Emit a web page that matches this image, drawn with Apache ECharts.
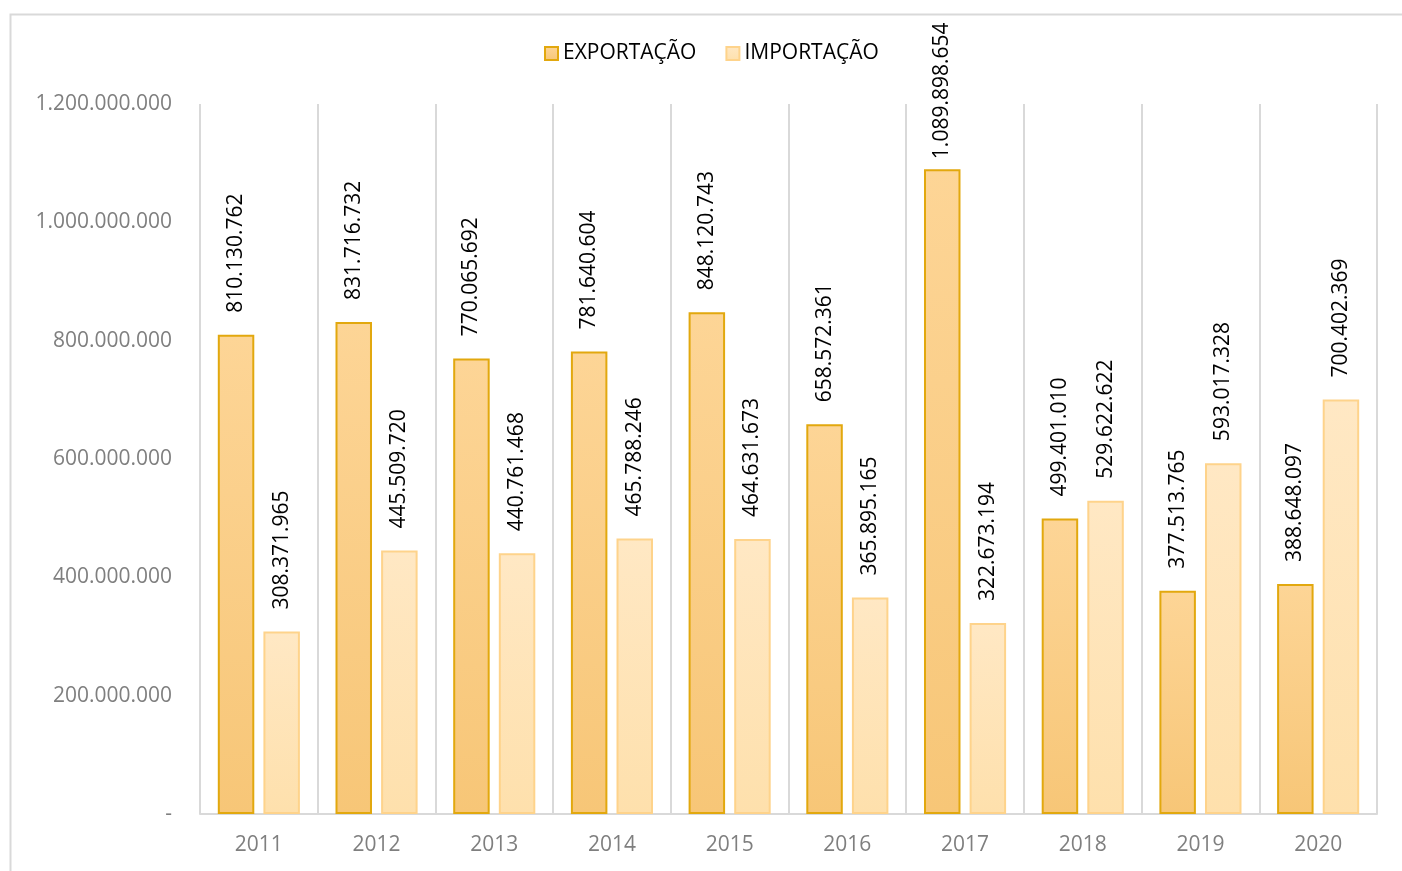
<!DOCTYPE html>
<html>
<head>
<meta charset="utf-8">
<script src="https://cdn.jsdelivr.net/npm/echarts@6/dist/echarts.min.js"></script>
<style>
html,body{margin:0;padding:0;background:#fff;}
#chart{width:1402px;height:871px;}
</style>
</head>
<body>
<div id="chart"></div>
<script>
const categories = ['2011','2012','2013','2014','2015','2016','2017','2018','2019','2020'];
const exportacao = [810130762, 831716732, 770065692, 781640604, 848120743, 658572361, 1089898654, 499401010, 377513765, 388648097];
const importacao = [308371965, 445509720, 440761468, 465788246, 464631673, 365895165, 322673194, 529622622, 593017328, 700402369];
const seriesNames = ['EXPORTAÇÃO', 'IMPORTAÇÃO'];

const FONT = '"Open Sans", "Liberation Sans", sans-serif';
const FS = 21;
function fmt(v) {
  if (v === 0) return '-';
  return String(Math.round(v)).replace(/\B(?=(\d{3})+(?!\d))/g, '.');
}
function grad(top, bottom) {
  return new echarts.graphic.LinearGradient(0, 0, 0, 1, [
    {offset: 0, color: top}, {offset: 1, color: bottom}
  ]);
}
const labelCfg = {
  show: true,
  position: 'top',
  rotate: 90,
  align: 'left',
  verticalAlign: 'middle',
  distance: 22,
  color: '#000',
  fontFamily: FONT,
  fontSize: FS,
  formatter: p => fmt(p.value)
};
// labels that would run past the top of the chart sit closer to their bar
function withLabelFit(values) {
  return values.map(v => v > 1000000000 ? {value: v, label: {distance: 10}} : v);
}

const chart = echarts.init(document.getElementById('chart'), null, {renderer: 'canvas'});
chart.setOption({
  backgroundColor: '#fff',
  animation: false,
  graphic: [{
    type: 'rect',
    shape: {x: 10.5, y: 14.5, width: 1500, height: 1000},
    style: {fill: 'none', stroke: '#d9d9d9', lineWidth: 2},
    silent: true, z: -1
  }],
  legend: {
    top: 38,
    left: 539,
    icon: 'rect',
    itemWidth: 13,
    itemHeight: 13,
    itemGap: 29,
    textStyle: {fontFamily: FONT, fontSize: FS, color: '#000'},
    data: seriesNames
  },
  grid: {left: 200, right: 25, top: 104, bottom: 57, containLabel: false},
  xAxis: {
    type: 'category',
    data: categories,
    boundaryGap: true,
    axisLine: {show: true, lineStyle: {color: '#d9d9d9', width: 2}},
    axisTick: {show: false},
    splitLine: {show: true, lineStyle: {color: '#d9d9d9', width: 2}},
    axisLabel: {color: '#7f7f7f', fontFamily: FONT, fontSize: FS, margin: 21}
  },
  yAxis: {
    type: 'value',
    min: 0,
    max: 1200000000,
    interval: 200000000,
    axisLine: {show: false},
    axisTick: {show: false},
    splitLine: {show: false},
    axisLabel: {color: '#7f7f7f', fontFamily: FONT, fontSize: FS, margin: 28, formatter: fmt}
  },
  series: [{
    name: seriesNames[0],
    type: 'bar',
    data: withLabelFit(exportacao),
    barWidth: '31%',
    barGap: '25%',
    itemStyle: {color: grad('#fdd596', '#f7c677'), borderColor: '#e2a80e', borderWidth: 2},
    label: labelCfg
  }, {
    name: seriesNames[1],
    type: 'bar',
    data: withLabelFit(importacao),
    barWidth: '31%',
    itemStyle: {color: grad('#ffe8c4', '#fee0ac'), borderColor: '#fed38b', borderWidth: 2},
    label: labelCfg
  }]
});
</script>
</body>
</html>
